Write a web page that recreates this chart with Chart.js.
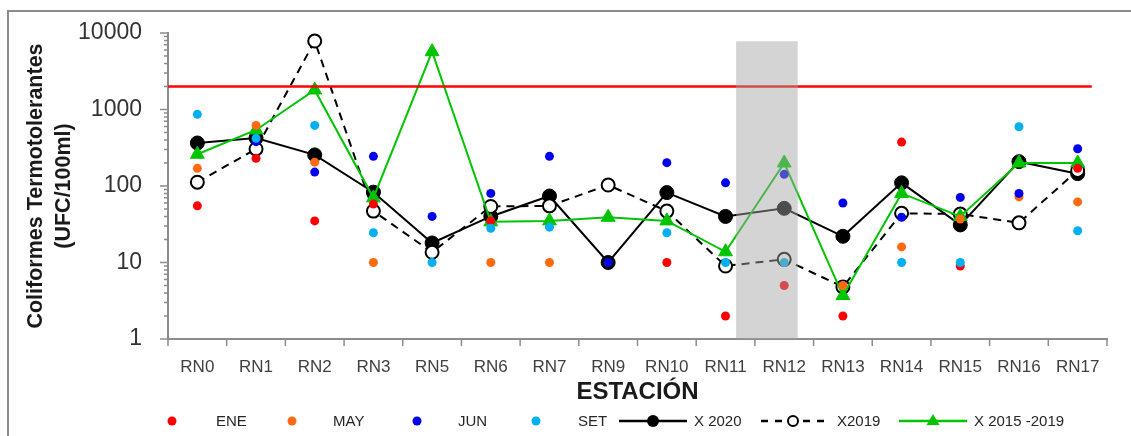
<!DOCTYPE html>
<html>
<head>
<meta charset="utf-8">
<title>Coliformes Termotolerantes por estación</title>
<script src="https://cdn.jsdelivr.net/npm/chart.js@4/dist/chart.umd.min.js"></script>
<style>
  html, body { margin: 0; padding: 0; background: #ffffff; overflow: hidden; }
  #wrap { position: relative; width: 1131px; height: 436px; }
  #frame { position: absolute; left: 7px; top: 10px; width: 1200px; height: 500px; border: 2px solid #8c8c8c; }
  #c { position: absolute; left: 0; top: 0; }
  #legend { position: absolute; left: 0; top: 410px; width: 1131px; height: 22px;
            font: 15px "Liberation Sans", Arial, sans-serif; color: #262626; }
  .sym { position: absolute; top: 0; height: 22px; }
  .txt { position: absolute; top: 0; height: 22px; line-height: 22px; white-space: nowrap; }
</style>
</head>
<body>
<div id="wrap">
  <div id="frame"></div>
  <canvas id="c" width="1131" height="436"></canvas>
  <div id="legend"></div>
</div>
<script>
// Stations along the river
const categories = ['RN0','RN1','RN2','RN3','RN5','RN6','RN7','RN9','RN10','RN11','RN12','RN13','RN14','RN15','RN16','RN17'];

// Monthly samples 2020 (UFC/100ml)
const ene = [55, 230, 35, 58, null, 35, null, null, 10, 2, 5, 2, 375, 9, null, 170];
const may = [170, 620, 205, 10, null, 10, 10, null, null, null, null, 5, 16, 37, 72, 62];
const jun = [null, 380, 152, 244, 40, 80, 244, 10, 202, 110, 142, 60, 39, 71, 80, 307];
const set = [865, 420, 620, 24.5, 10, 28, 29, null, 24.5, 10, 10, null, 10, 10, 596, 26];

// Averages
const x2020 = [365, 425, 255, 83, 18, 40, 74, 10, 82, 40, 51, 22, 110, 31, 208, 145];
const x2019 = [112, 305, 7850, 47, 13.6, 54, 55, 103, 47, 9, 11, 4.8, 44, 43, 33, 160];
const x2015_2019 = [260, 540, 1800, 70, 5700, 34, 35, 39, 35, 13.8, 200, 3.7, 80, 40, 200, 200];

// Y axis labelled decades
const yTickLabels = [1, 10, 100, 1000, 10000];

// Standard limit (UFC/100ml) and the span of the reference line (category index)
const LIMIT = 2000;
const LIMIT_END = 15.24;
// Shaded station band (category index range) and its upper value
const BAND = [9.18, 10.23];
const BAND_TOP = 7800;

const FONT = '"Liberation Sans", Arial, sans-serif';
const AXIS = '#8c8c8c';
const GREEN = '#00c400';

Chart.defaults.font.family = FONT;

const dotSeries = [
  { label: 'ENE', data: ene, color: '#ff0000', order: 4 },
  { label: 'MAY', data: may, color: '#ff6a10', order: 3 },
  { label: 'JUN', data: jun, color: '#0000ee', order: 2 },
  { label: 'SET', data: set, color: '#00b0f0', order: 1 }
];

const datasets = [
  { label: 'X 2020', data: x2020, order: 7, borderColor: '#000000', borderWidth: 2,
    pointStyle: 'circle', pointRadius: 7, pointBackgroundColor: '#000000',
    pointBorderColor: '#000000', pointBorderWidth: 1, tension: 0 },
  { label: 'X2019', data: x2019, order: 6, borderColor: '#000000', borderWidth: 2, borderDash: [8, 6],
    pointStyle: 'circle', pointRadius: 6.5, pointBackgroundColor: '#ffffff',
    pointBorderColor: '#000000', pointBorderWidth: 2, tension: 0 },
  { label: 'X 2015 -2019', data: x2015_2019, order: 5, borderColor: GREEN, borderWidth: 2,
    pointStyle: 'triangle', pointRadius: 8, pointBackgroundColor: GREEN,
    pointBorderColor: GREEN, pointBorderWidth: 1, tension: 0 }
].concat(dotSeries.map(s => ({
  label: s.label, data: s.data, order: s.order, showLine: false,
  pointStyle: 'circle', pointRadius: 4.5, pointBackgroundColor: s.color,
  pointBorderColor: s.color, pointBorderWidth: 0, borderColor: s.color
})));

// Tick marks on both axes: long at decades, short at minor log steps, and at category boundaries
const axisMarks = {
  id: 'axisMarks',
  beforeDatasetsDraw(chart) {
    const { ctx, chartArea: a, scales: { x, y } } = chart;
    ctx.save();
    ctx.strokeStyle = AXIS;
    ctx.lineWidth = 1.5;
    ctx.beginPath();
    for (let e = 0; e < yTickLabels.length; e++) {
      for (let m = 1; m <= 9; m++) {
        const v = m * yTickLabels[e];
        if (v > yTickLabels[yTickLabels.length - 1]) break;
        const py = y.getPixelForValue(v);
        const len = m === 1 ? 8 : 4;
        ctx.moveTo(a.left - len, py);
        ctx.lineTo(a.left, py);
      }
    }
    for (let i = 0; i <= categories.length; i++) {
      const px = x.getPixelForValue(i - 0.5);
      ctx.moveTo(px, a.bottom);
      ctx.lineTo(px, a.bottom + 7);
    }
    ctx.stroke();
    ctx.restore();
  }
};

// Limit line and the translucent shaded band drawn over the series
const overlays = {
  id: 'overlays',
  afterDatasetsDraw(chart) {
    const { ctx, chartArea: a, scales: { x, y } } = chart;
    ctx.save();
    const ly = y.getPixelForValue(LIMIT);
    ctx.strokeStyle = '#ff0000';
    ctx.lineWidth = 2.5;
    ctx.beginPath();
    ctx.moveTo(a.left, ly);
    ctx.lineTo(x.getPixelForValue(LIMIT_END), ly);
    ctx.stroke();

    const bx0 = x.getPixelForValue(BAND[0]);
    const bx1 = x.getPixelForValue(BAND[1]);
    const by0 = y.getPixelForValue(BAND_TOP);
    ctx.fillStyle = 'rgba(164,164,164,0.47)';
    ctx.fillRect(bx0, by0, bx1 - bx0, a.bottom - by0);
    ctx.restore();
  }
};

new Chart(document.getElementById('c').getContext('2d'), {
  type: 'line',
  data: { labels: categories, datasets },
  options: {
    responsive: false,
    animation: false,
    devicePixelRatio: 1,
    layout: { padding: { top: 33, right: 24, bottom: 0, left: 0 } },
    plugins: { legend: { display: false }, tooltip: { enabled: false } },
    scales: {
      x: {
        offset: true,
        grid: { display: false, drawTicks: false },
        border: { display: true, color: AXIS, width: 2 },
        ticks: { color: '#404040', font: { size: 17 }, padding: 18, maxRotation: 0, autoSkip: false },
        title: { display: true, text: 'ESTACIÓN', color: '#1a1a1a',
                 font: { size: 24, weight: 'bold' }, padding: { top: 0, bottom: 29 } },
        afterFit(scale) {
          scale.height = 97;
          scale.paddingLeft = 0;
          scale.paddingRight = 0;
        }
      },
      y: {
        type: 'logarithmic',
        min: yTickLabels[0],
        max: yTickLabels[yTickLabels.length - 1],
        grid: { display: false, drawTicks: false },
        border: { display: true, color: AXIS, width: 2 },
        ticks: {
          autoSkip: false, padding: 26, color: '#333333', font: { size: 23 },
          callback(v) { return yTickLabels.includes(Math.round(v)) && Math.abs(v - Math.round(v)) < 1e-6 ? String(Math.round(v)) : ''; }
        },
        title: { display: true, text: ['Coliformes Termotolerantes', '(UFC/100ml)'], color: '#1a1a1a',
                 font: { size: 21.5, weight: 'bold', lineHeight: 1.3 }, padding: { top: 22, bottom: 0 } },
        afterFit(scale) {
          scale.width = 168;
          scale.paddingTop = 0;
          scale.paddingBottom = 0;
        }
      }
    }
  },
  plugins: [axisMarks, overlays]
});

// Legend: marker symbols plus text
const legendItems = [
  { text: 'ENE', kind: 'dot', color: dotSeries[0].color, sym: 167, w: 10, tx: 216 },
  { text: 'MAY', kind: 'dot', color: dotSeries[1].color, sym: 287, w: 10, tx: 333 },
  { text: 'JUN', kind: 'dot', color: dotSeries[2].color, sym: 412, w: 10, tx: 458 },
  { text: 'SET', kind: 'dot', color: dotSeries[3].color, sym: 531, w: 10, tx: 578 },
  { text: 'X 2020', kind: 'solid', color: '#000000', sym: 619, w: 68, tx: 694 },
  { text: 'X2019', kind: 'dashed', color: '#000000', sym: 761, w: 64, tx: 837 },
  { text: 'X 2015 -2019', kind: 'tri', color: GREEN, sym: 899, w: 68, tx: 974 }
];

const legend = document.getElementById('legend');
const NS = 'http://www.w3.org/2000/svg';
legendItems.forEach(it => {
  const svg = document.createElementNS(NS, 'svg');
  svg.setAttribute('class', 'sym');
  svg.setAttribute('width', it.w);
  svg.setAttribute('height', 22);
  svg.style.left = it.sym + 'px';
  const cx = it.w / 2, cy = 11;
  const add = (tag, attrs) => {
    const el = document.createElementNS(NS, tag);
    Object.entries(attrs).forEach(([k, v]) => el.setAttribute(k, v));
    svg.appendChild(el);
  };
  if (it.kind === 'dot') {
    add('circle', { cx, cy, r: 4.5, fill: it.color });
  } else {
    const line = { x1: 0, y1: cy, x2: it.w, y2: cy, stroke: it.color, 'stroke-width': 2.5 };
    if (it.kind === 'dashed') line['stroke-dasharray'] = '7 7';
    add('line', line);
    if (it.kind === 'solid') add('circle', { cx, cy, r: 6, fill: '#000000' });
    if (it.kind === 'dashed') add('circle', { cx, cy, r: 5, fill: '#ffffff', stroke: '#000000', 'stroke-width': 2 });
    if (it.kind === 'tri') add('polygon', { points: `${cx},${cy - 7} ${cx + 6.5},${cy + 4} ${cx - 6.5},${cy + 4}`, fill: it.color });
  }
  legend.appendChild(svg);
  const t = document.createElement('div');
  t.className = 'txt';
  t.style.left = it.tx + 'px';
  t.textContent = it.text;
  legend.appendChild(t);
});
</script>
</body>
</html>
